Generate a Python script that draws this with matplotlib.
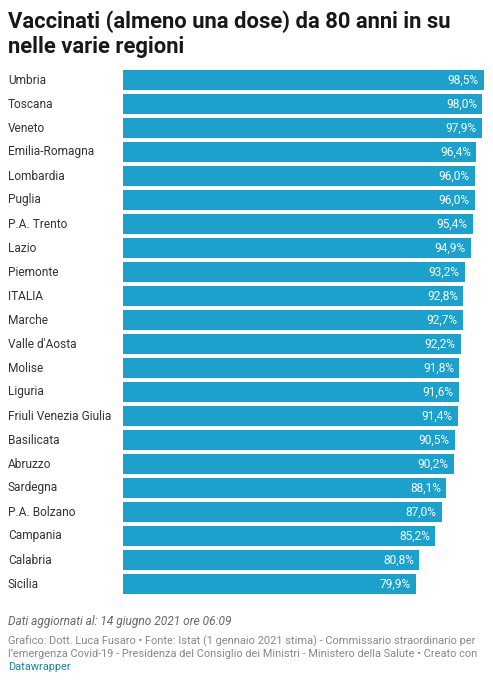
import matplotlib
matplotlib.use("Agg")
import matplotlib.pyplot as plt
import matplotlib.transforms as mtransforms

regions = ["Umbria", "Toscana", "Veneto", "Emilia-Romagna", "Lombardia", "Puglia",
           "P.A. Trento", "Lazio", "Piemonte", "ITALIA", "Marche", "Valle d'Aosta",
           "Molise", "Liguria", "Friuli Venezia Giulia", "Basilicata", "Abruzzo",
           "Sardegna", "P.A. Bolzano", "Campania", "Calabria", "Sicilia"]
values = [98.5, 98.0, 97.9, 96.4, 96.0, 96.0, 95.4, 94.9, 93.2, 92.8, 92.7, 92.2,
          91.8, 91.6, 91.4, 90.5, 90.2, 88.1, 87.0, 85.2, 80.8, 79.9]

title1 = "Vaccinati (almeno una dose) da 80 anni in su"
title2 = "nelle varie regioni"
note = "Dati aggiornati al: 14 giugno 2021 ore 06:09"
credit1 = "Grafico: Dott. Luca Fusaro \u2022 Fonte: Istat (1 gennaio 2021 stima) - Commissario straordinario per"
credit2 = "l\u2019emergenza Covid-19 - Presidenza del Consiglio dei Ministri - Ministero della Salute \u2022 Creato con"
credit3 = "Datawrapper"

W, H = 493, 681
plt.rcParams['font.family'] = ['Roboto', 'DejaVu Sans']
fig = plt.figure(figsize=(W / 100, H / 100), dpi=100)
fig.patch.set_facecolor("white")

def fx(px):
    return px / W

def fy(py):
    return 1 - py / H

ax = fig.add_axes([fx(123), fy(596), fx(489.5) - fx(123), (596 - 68) / H])
n = len(regions)
ypos = list(range(n))
ax.barh(ypos, values, height=0.8, color="#1ba1cc")
ax.set_xlim(0, 100)
ax.set_ylim(n - 0.5, -0.5)
ax.axis("off")

blend = mtransforms.blended_transform_factory(fig.transFigure, ax.transData)
for i, (r, v) in enumerate(zip(regions, values)):
    ax.text(v - 1.4, i, f"{v:.1f}%".replace(".", ","), ha="right", va="center",
            color="white", fontsize=8.6)
    ax.text(fx(8), i, r, transform=blend, ha="left", va="center",
            color="#333333", fontsize=8.6)

fig.text(fx(8), fy(28), title1, ha="left", va="baseline", fontsize=15.8,
         fontweight="bold", color="#181818")
fig.text(fx(8), fy(53), title2, ha="left", va="baseline", fontsize=15.8,
         fontweight="bold", color="#181818")

fig.text(fx(8), fy(625), note, ha="left", va="baseline", fontsize=8.6,
         style="italic", color="#666666")
fig.text(fx(8), fy(644), credit1, ha="left", va="baseline", fontsize=7.9, color="#888888")
fig.text(fx(8), fy(657), credit2, ha="left", va="baseline", fontsize=7.9, color="#888888")
fig.text(fx(8), fy(669.5), credit3, ha="left", va="baseline", fontsize=7.9, color="#1d81a2")

fig.savefig("out.png", dpi=100, facecolor="white")
